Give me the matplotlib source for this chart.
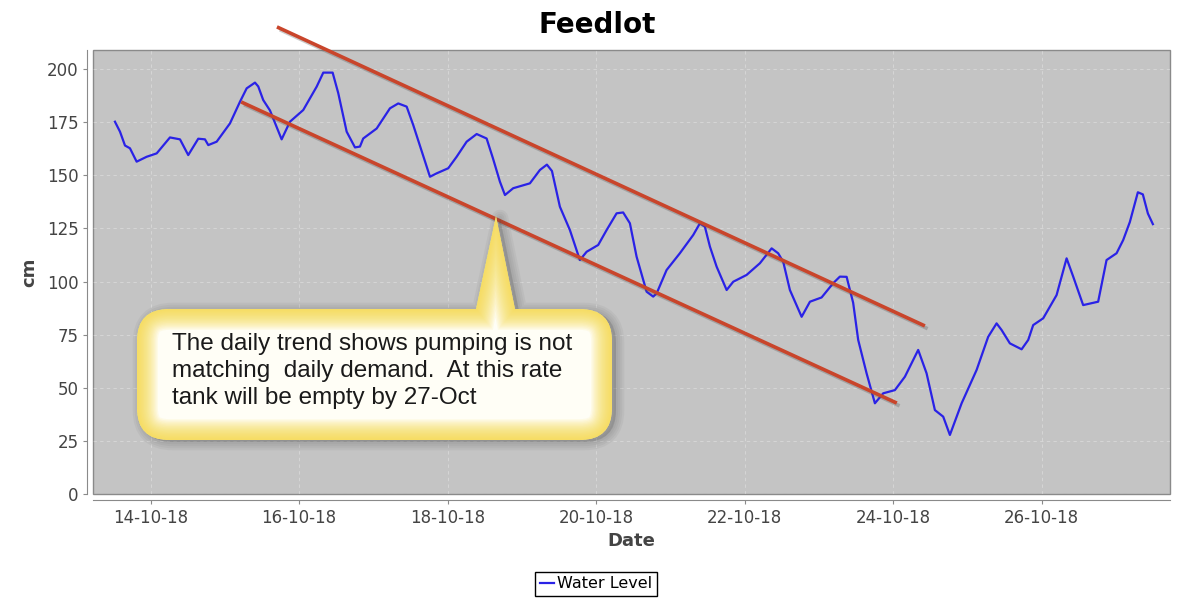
import matplotlib
matplotlib.use('Agg')
import matplotlib.pyplot as plt
import matplotlib.dates as mdates
import matplotlib.patheffects as pe
from matplotlib.path import Path
from matplotlib.patches import PathPatch
import pandas as pd
import numpy as np


###############################################################################
# water level readings (days after 14-10-18 00:00, level in cm)
day_offset = [-0.481, -0.413, -0.346, -0.279, -0.189, -0.054, 0.081, 0.260,
              0.395, 0.506, 0.641, 0.731, 0.776, 0.889, 1.068, 1.203, 1.293,
              1.405, 1.449, 1.516, 1.607, 1.764, 1.876, 2.055, 2.236, 2.325,
              2.451, 2.527, 2.640, 2.752, 2.819, 2.863, 3.044, 3.223, 3.335,
              3.448, 3.537, 3.762, 3.852, 4.008, 4.121, 4.256, 4.391, 4.525,
              4.610, 4.704, 4.772, 4.883, 5.108, 5.243, 5.337, 5.405, 5.512,
              5.647, 5.781, 5.872, 6.028, 6.141, 6.276, 6.364, 6.455, 6.545,
              6.680, 6.769, 6.815, 6.949, 7.128, 7.308, 7.398, 7.465, 7.533,
              7.623, 7.758, 7.847, 8.027, 8.206, 8.364, 8.452, 8.520, 8.610,
              8.768, 8.880, 9.037, 9.193, 9.283, 9.374, 9.462, 9.530, 9.643,
              9.755, 9.867, 10.024, 10.159, 10.338, 10.451, 10.563, 10.675,
              10.765, 10.923, 11.125, 11.281, 11.394, 11.461, 11.573, 11.731,
              11.820, 11.887, 12.022, 12.202, 12.337, 12.426, 12.560, 12.762,
              12.875, 13.010, 13.099, 13.189, 13.297, 13.364, 13.432, 13.499]
water_level = [175.2, 170.5, 164.0, 162.7, 156.4, 158.7, 160.3, 167.8,
               166.9, 159.5, 167.2, 166.9, 164.2, 165.8, 174.4, 184.6, 190.9,
               193.6, 191.8, 185.4, 180.5, 166.9, 175.2, 180.7, 191.7, 198.3,
               198.3, 188.6, 170.5, 163.1, 163.5, 167.3, 172.0, 181.5, 183.8,
               182.3, 173.6, 149.3, 150.9, 153.3, 158.7, 165.8, 169.4, 167.3,
               158.0, 147.0, 140.7, 143.9, 146.2, 152.5, 155.0, 152.0, 135.2,
               124.2, 110.1, 114.0, 117.2, 124.2, 132.1, 132.5, 127.4, 111.7,
               95.2, 92.9, 94.4, 105.4, 113.3, 121.9, 127.4, 125.8, 116.4,
               107.0, 96.0, 99.9, 103.1, 108.6, 115.6, 113.3, 109.3, 96.0,
               83.4, 90.5, 92.5, 99.2, 102.3, 102.2, 90.0, 72.5, 56.8,
               42.7, 47.4, 48.9, 55.2, 67.8, 56.8, 39.5, 36.4,
               27.8, 42.7, 58.4, 74.0, 80.3, 77.2, 70.9, 68.1,
               72.5, 79.5, 82.7, 93.6, 110.9, 102.3, 88.9, 90.5,
               110.1, 113.3, 119.5, 128.0, 142.0, 141.0, 132.0, 127.0]

# hand drawn trend lines (start/end day offset, start/end level)
upper_trend_days = [1.701, 10.428]
upper_trend_cm = [219.8, 79.1]
lower_trend_days = [1.219, 10.050]
lower_trend_cm = [184.5, 42.8]

callout_text = ("The daily trend shows pumping is not\n"
                "matching  daily demand.  At this rate\n"
                "tank will be empty by 27-Oct")

base = pd.Timestamp('2018-10-14')
Time = base + pd.to_timedelta(day_offset, unit='D')
UpTime = base + pd.to_timedelta(upper_trend_days, unit='D')
LowTime = base + pd.to_timedelta(lower_trend_days, unit='D')


###############################################################################
fig = plt.figure(figsize=(11.86, 6.01), dpi=100)
ax = fig.add_axes([0.0784, 0.178, 0.908, 0.739])

ax.set_facecolor('#c4c4c4')
ax.patch.set_edgecolor('#8a8a8a')
ax.patch.set_linewidth(1.0)

ax.plot(Time, water_level, color='#2a22e6', linewidth=1.6, label='Water Level',
        zorder=3)

shadow = [pe.SimpleLineShadow(offset=(2, -2), shadow_color='#555555', alpha=0.3),
          pe.Normal()]
ax.plot(UpTime, upper_trend_cm, color='#c9452b', linewidth=2.6,
        solid_capstyle='butt', clip_on=False, zorder=4, path_effects=shadow)
ax.plot(LowTime, lower_trend_cm, color='#c9452b', linewidth=2.6,
        solid_capstyle='butt', clip_on=False, zorder=4, path_effects=shadow)

ax.set_ylim(0, 209)
ax.set_xlim(base + pd.Timedelta(days=-0.777), base + pd.Timedelta(days=13.728))
ax.yaxis.set_ticks(np.arange(0, 201, 25))
ax.xaxis.set_major_locator(mdates.DayLocator(bymonthday=[14, 16, 18, 20, 22, 24, 26]))
ax.xaxis.set_major_formatter(mdates.DateFormatter('%d-%m-%y'))

ax.grid(True, color='white', alpha=0.3, linestyle=(0, (3, 3)), linewidth=0.8)
ax.set_axisbelow(True)

for s in ['top', 'right']:
    ax.spines[s].set_visible(False)
for s in ['left', 'bottom']:
    ax.spines[s].set_position(('outward', 4))
    ax.spines[s].set_color('#8a8a8a')
ax.tick_params(axis='both', direction='out', length=3, color='#8a8a8a',
               labelsize=12, labelcolor='#444444')

ax.set_title('Feedlot', fontsize=20, fontweight='bold', pad=12, x=0.468)
ax.set_ylabel('cm', fontsize=13, fontweight='bold', color='#444444', labelpad=6)
ax.set_xlabel('Date', fontsize=13, fontweight='bold', color='#444444', labelpad=4)

leg = fig.legend(loc='center', bbox_to_anchor=(596 / 1186, 1 - 584 / 601),
                 fontsize=11.5, frameon=True, fancybox=False, handlelength=0.9,
                 handletextpad=0.15, borderpad=0.3, borderaxespad=0)
leg.get_frame().set_edgecolor('black')
leg.get_frame().set_linewidth(1.0)
leg.get_frame().set_alpha(1)


###############################################################################
# callout bubble (inches from figure bottom-left)
H = 6.01
L, R, T, B, r = 1.37, 6.12, H - 3.09, H - 4.40, 0.32
bx1, bx2, tipx, tipy = 4.76, 5.15, 4.96, H - 2.16
verts = [(L + r, T), (bx1, T), (tipx, tipy), (bx2, T), (R - r, T),
         (R, T), (R, T - r), (R, B + r), (R, B), (R - r, B),
         (L + r, B), (L, B), (L, B + r), (L, T - r), (L, T), (L + r, T),
         (L + r, T)]
codes = [Path.MOVETO, Path.LINETO, Path.LINETO, Path.LINETO, Path.LINETO,
         Path.CURVE3, Path.CURVE3, Path.LINETO, Path.CURVE3, Path.CURVE3,
         Path.LINETO, Path.CURVE3, Path.CURVE3, Path.LINETO, Path.CURVE3,
         Path.CURVE3, Path.CLOSEPOLY]
bubble = Path(verts, codes)
trans = fig.dpi_scale_trans

# soft grey shadow, a bit to the right
sh = Path(np.array(verts) + np.array([0.04, -0.02]), codes)
for lw in [12, 9, 6, 3]:
    fig.add_artist(PathPatch(sh, transform=trans, facecolor='#4a4a4a',
                             edgecolor='#4a4a4a', linewidth=lw, alpha=0.06,
                             joinstyle='round', zorder=5))

body = PathPatch(bubble, transform=trans, facecolor='#fffef6',
                 edgecolor='none', zorder=6)
fig.add_artist(body)
for lw in np.arange(30, 1, -2):
    glow = PathPatch(bubble, transform=trans, facecolor='none',
                     edgecolor='#f6d63a', linewidth=lw, alpha=0.085, zorder=7)
    fig.add_artist(glow)
    glow.set_clip_path(body)

fig.text(1.72 / 11.86, (H - 3.71) / H, callout_text, fontsize=17.5,
         family='Liberation Sans', color='#1a1a1a', va='center', ha='left',
         linespacing=1.3, zorder=8)

plt.savefig('out.png', dpi=100)
